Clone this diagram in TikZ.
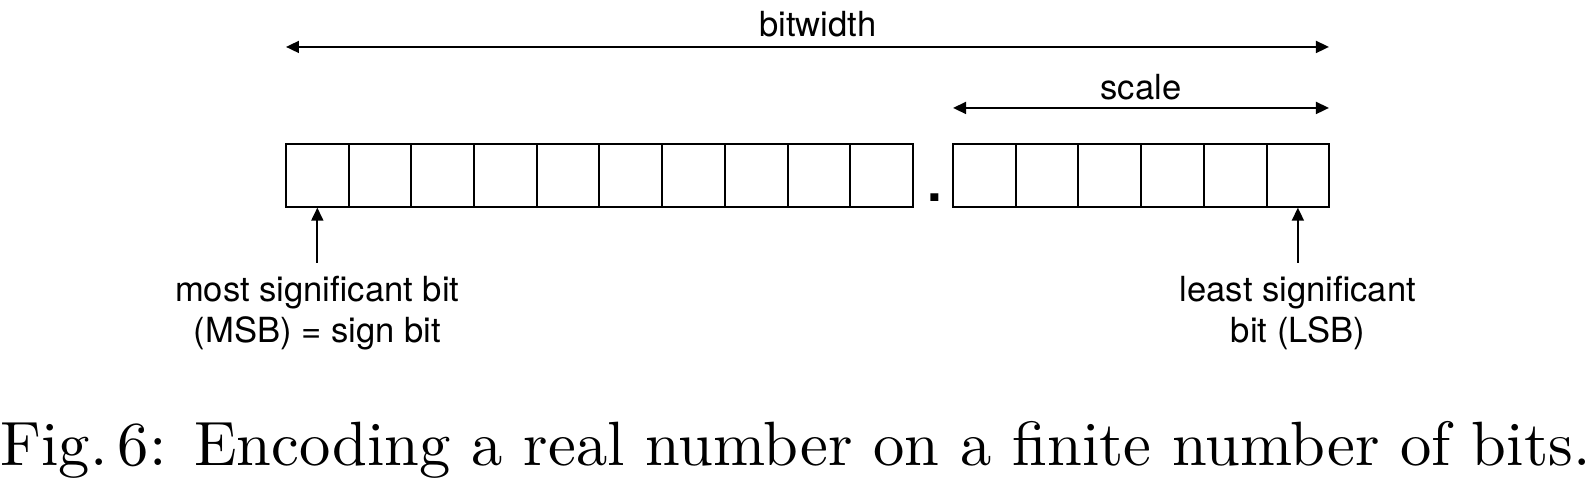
\documentclass[tikz,border=0pt]{standalone}
\usepackage{fontspec}
\setsansfont{TeX Gyre Heros}
\newfontfamily\capfont{lmroman10-regular.otf}
\usetikzlibrary{arrows.meta}

\begin{document}
\begin{tikzpicture}[bit/.style={draw,line width=0.9pt,minimum width=1cm,minimum height=1cm,inner sep=0pt},
    lbl/.style={font=\sffamily\fontsize{15.7}{18.6}\selectfont},
    >={Triangle[length=5.9pt,width=5.4pt]}]
    \useasboundingbox (0,0) rectangle (25.359,7.751);
    \node[bit] (b1) at (5.061,4.955) {};
    \node[bit] (b2) at (6.061,4.955) {};
    \node[bit] (b3) at (7.061,4.955) {};
    \node[bit] (b4) at (8.061,4.955) {};
    \node[bit] (b5) at (9.061,4.955) {};
    \node[bit] (b6) at (10.061,4.955) {};
    \node[bit] (b7) at (11.061,4.955) {};
    \node[bit] (b8) at (12.061,4.955) {};
    \node[bit] (b9) at (13.061,4.955) {};
    \node[bit] (b10) at (14.061,4.955) {};

    \node[font=\sffamily\bfseries\fontsize{24}{24}\selectfont] (pt) at (14.904,4.593) {.};

    \node[bit] (f1) at (15.70,4.955) {};
    \node[bit] (f2) at (16.70,4.955) {};
    \node[bit] (f3) at (17.70,4.955) {};
    \node[bit] (f4) at (18.70,4.955) {};
    \node[bit] (f5) at (19.70,4.955) {};
    \node[bit] (f6) at (20.70,4.955) {};

    \coordinate (wl) at (4.561,7.002);
    \coordinate (wr) at (21.196,7.002);
    \coordinate (sl) at (15.20,6.029);
    \coordinate (sr) at (21.196,6.029);
    \draw[<->,line width=0.9pt] (wl) -- (wr);
    \draw[<->,line width=0.9pt] (sl) -- (sr);
    \node[lbl] (bw) at (13.046,7.368) {bitwidth};
    \node[lbl] (sc) at (18.198,6.364) {scale};

    \node[lbl,anchor=north,align=center,inner sep=6pt] (msb) at (5.061,3.557) {most significant bit\\(MSB) = sign bit};
    \node[lbl,anchor=north,align=center,inner sep=6pt] (lsb) at (20.70,3.557) {least significant\\bit (LSB)};
    \draw[->,line width=0.9pt] (msb) -- (b1);
    \draw[->,line width=0.9pt] (lsb) -- (f6);

    \node[font=\capfont\fontsize{28.4}{34}\selectfont,anchor=base] (cap) at (12.687,0.319) {Fig.\,6: Encoding a real number on a finite number of bits.};
  \end{tikzpicture}
\end{document}
